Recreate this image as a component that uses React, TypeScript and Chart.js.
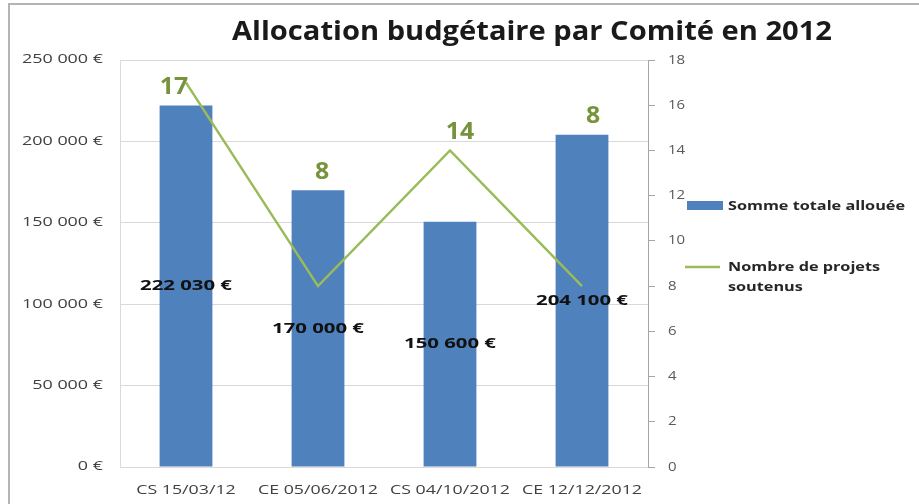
import React, { useEffect, useRef } from "react";
import { Chart, registerables } from "chart.js";

Chart.register(...registerables);

const TITLE = "Allocation budgétaire par Comité en 2012";
const CATEGORIES = ["CS 15/03/12", "CE 05/06/2012", "CS 04/10/2012", "CE 12/12/2012"];
const BUDGET = [222030, 170000, 150600, 204100];
const BUDGET_LABELS = ["222 030 €", "170 000 €", "150 600 €", "204 100 €"];
const PROJECTS = [17, 8, 14, 8];
const SERIES_NAMES = ["Somme totale allouée", "Nombre de projets soutenus"];
const LEFT_MAX = 250000;
const LEFT_STEP = 50000;
const RIGHT_MAX = 18;
const RIGHT_STEP = 2;

const BLUE = "#4F81BD";
const GREEN = "#9BBB59";
const GREEN_DARK = "#77933C";
const FONT = "'Open Sans', 'Liberation Sans', sans-serif";
const LINE_LABEL_DX = [-12, 4, 10, 11];

function fmtEuro(v: number): string {
  const s = Math.round(v).toString().replace(/\B(?=(\d{3})+(?!\d))/g, " ");
  return s + " €";
}

function drawText(ctx: any, text: string, x: number, y: number, sx: number, align: string) {
  ctx.save();
  ctx.translate(x, y);
  ctx.scale(sx, 1);
  ctx.textAlign = align;
  ctx.textBaseline = "middle";
  ctx.fillText(text, 0, 0);
  ctx.restore();
}

function fitScale(ctx: any, sample: string, target: number): number {
  return target / ctx.measureText(sample).width;
}

const decorPlugin = {
  id: "decor",
  beforeDraw(chart: any) {
    const ctx = chart.ctx;
    ctx.save();
    ctx.fillStyle = "#ffffff";
    ctx.fillRect(0, 0, chart.width, chart.height);
    ctx.strokeStyle = "#b4b4b4";
    ctx.lineWidth = 2;
    ctx.strokeRect(9, 4, chart.width + 10, chart.height + 10);
    ctx.restore();
  },
  afterDatasetsDraw(chart: any) {
    const ctx = chart.ctx;
    const barMeta = chart.getDatasetMeta(0);
    const lineMeta = chart.getDatasetMeta(1);
    ctx.save();
    // bar labels
    ctx.font = `bold 15px ${FONT}`;
    ctx.fillStyle = "#111111";
    const sxBar = fitScale(ctx, BUDGET_LABELS[0], 92);
    barMeta.data.forEach((bar: any, i: number) => {
      const mid = (bar.y + bar.base) / 2;
      drawText(ctx, BUDGET_LABELS[i], bar.x, mid, sxBar, "center");
    });
    // line labels
    ctx.font = `bold 23px ${FONT}`;
    ctx.fillStyle = GREEN_DARK;
    lineMeta.data.forEach((pt: any, i: number) => {
      const barTop = barMeta.data[i].y;
      const y = (pt.y < barTop - 30 ? pt.y : barTop) - 18;
      drawText(ctx, String(PROJECTS[i]), pt.x + LINE_LABEL_DX[i], y, 1.08, "center");
    });
    ctx.restore();
  },
  afterDraw(chart: any) {
    const ctx = chart.ctx;
    ctx.save();
    // axis tick labels
    const sy = chart.scales.y;
    ctx.font = `12px ${FONT}`;
    ctx.fillStyle = "#404040";
    const sxL = fitScale(ctx, fmtEuro(LEFT_MAX), 81);
    sy.ticks.forEach((t: any, i: number) => {
      drawText(ctx, fmtEuro(t.value), 103, sy.getPixelForTick(i), sxL, "right");
    });
    const sy1 = chart.scales.y1;
    ctx.font = `12.5px ${FONT}`;
    ctx.fillStyle = "#595959";
    sy1.ticks.forEach((t: any, i: number) => {
      drawText(ctx, String(t.value), 668, sy1.getPixelForTick(i), 1.2, "left");
    });
    const sxx = chart.scales.x;
    ctx.font = `13px ${FONT}`;
    ctx.fillStyle = "#404040";
    const sxX = fitScale(ctx, CATEGORIES[1], 120);
    CATEGORIES.forEach((c, i) => {
      drawText(ctx, c, sxx.getPixelForTick(i), 490, sxX, "center");
    });
    // title
    ctx.font = `bold 27px ${FONT}`;
    ctx.fillStyle = "#1a1a1a";
    const sxT = fitScale(ctx, TITLE, 600);
    drawText(ctx, TITLE, 532, 32, sxT, "center");
    // legend
    ctx.font = `bold 13px ${FONT}`;
    const sxLeg = fitScale(ctx, SERIES_NAMES[0], 177);
    ctx.fillStyle = BLUE;
    ctx.fillRect(687, 201, 36, 9);
    ctx.fillStyle = "#262626";
    drawText(ctx, SERIES_NAMES[0], 728, 206, sxLeg, "left");
    ctx.strokeStyle = GREEN;
    ctx.lineWidth = 2.5;
    ctx.beginPath();
    ctx.moveTo(685, 267);
    ctx.lineTo(720, 267);
    ctx.stroke();
    const words = SERIES_NAMES[1].split(" ");
    drawText(ctx, words.slice(0, 3).join(" "), 728, 267, sxLeg, "left");
    drawText(ctx, words.slice(3).join(" "), 728, 287, sxLeg, "left");
    ctx.restore();
  },
};

export default function App() {
  const ref = useRef<HTMLCanvasElement | null>(null);
  useEffect(() => {
    if (!ref.current) return;
    const chart = new Chart(ref.current, {
      type: "bar",
      data: {
        labels: CATEGORIES,
        datasets: [
          {
            type: "bar",
            label: SERIES_NAMES[0],
            data: BUDGET,
            backgroundColor: BLUE,
            yAxisID: "y",
            barPercentage: 0.4,
            categoryPercentage: 1,
            order: 1,
          },
          {
            type: "line",
            label: SERIES_NAMES[1],
            data: PROJECTS,
            borderColor: GREEN,
            borderWidth: 2.5,
            pointRadius: 0,
            tension: 0,
            yAxisID: "y1",
            order: 0,
          } as any,
        ],
      },
      options: {
        responsive: false,
        animation: false,
        devicePixelRatio: 1,
        layout: { padding: { top: 60, left: 0, right: 0, bottom: 0 } },
        plugins: {
          legend: { display: false },
          title: { display: false },
          tooltip: { enabled: false },
        },
        scales: {
          x: {
            grid: { display: false },
            border: { display: true, color: "#d9d9d9" },
            ticks: { display: false },
            afterFit: (s: any) => { s.height = 37; },
          },
          y: {
            position: "left",
            min: 0,
            max: LEFT_MAX,
            ticks: { stepSize: LEFT_STEP, display: false },
            grid: { color: "#d9d9d9", drawTicks: false },
            border: { display: true, color: "#d9d9d9" },
            afterFit: (s: any) => { s.width = 120; },
          },
          y1: {
            position: "right",
            min: 0,
            max: RIGHT_MAX,
            ticks: { stepSize: RIGHT_STEP, display: false },
            grid: { drawOnChartArea: false, tickLength: 7, color: "#a6a6a6" },
            border: { display: true, color: "#a6a6a6" },
            afterFit: (s: any) => { s.width = 271; },
          },
        },
      },
      plugins: [decorPlugin],
    });
    return () => chart.destroy();
  }, []);
  return (
    <div style={{ position: "absolute", left: 0, top: 0, width: 919, height: 504 }}>
      <canvas ref={ref} width={919} height={504} style={{ display: "block" }} />
    </div>
  );
}
